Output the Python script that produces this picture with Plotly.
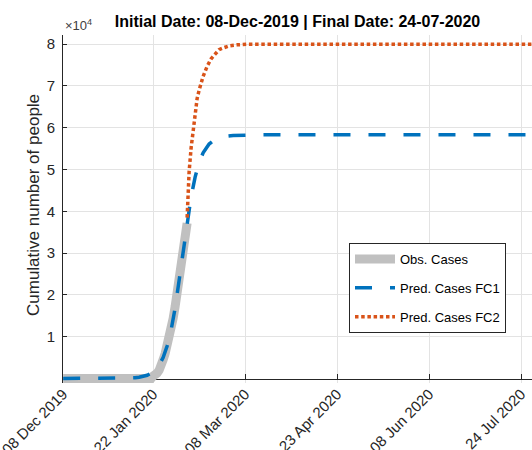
import plotly.graph_objects as go

# ---- data ----
obs_dates = ["2019-12-08", "2020-01-21", "2020-01-22", "2020-01-23", "2020-01-24", "2020-01-25",
             "2020-01-26", "2020-01-27", "2020-01-28", "2020-01-29", "2020-01-30", "2020-01-31",
             "2020-02-01", "2020-02-02", "2020-02-03", "2020-02-04", "2020-02-05", "2020-02-06",
             "2020-02-07", "2020-02-08"]
obs_values = [0, 0, 571, 830, 1287, 1975, 2744, 4515, 5974, 7711, 9692, 11791,
              14380, 17205, 20438, 24324, 28018, 31161, 34546, 37198]

fc1_dates = ["2019-12-08", "2019-12-28", "2020-01-02", "2020-01-07", "2020-01-11", "2020-01-13",
             "2020-01-15", "2020-01-17", "2020-01-19", "2020-01-21", "2020-01-23", "2020-01-25",
             "2020-01-27", "2020-01-29", "2020-01-31", "2020-02-02", "2020-02-04", "2020-02-06",
             "2020-02-08", "2020-02-10", "2020-02-12", "2020-02-14", "2020-02-16", "2020-02-19",
             "2020-02-22", "2020-02-26", "2020-03-02", "2020-03-09", "2020-03-17", "2020-07-30"]
fc1_values = [0, 4, 13, 42, 112, 183, 298, 480, 780, 1250, 2010, 3210,
              5020, 7790, 11650, 16850, 23180, 30160, 37030, 43500, 48200, 51700, 54000, 56100,
              57200, 57900, 58150, 58280, 58300, 58300]

fc2_dates = ["2020-02-08", "2020-02-09", "2020-02-10", "2020-02-11", "2020-02-12", "2020-02-13",
             "2020-02-14", "2020-02-15", "2020-02-16", "2020-02-18", "2020-02-20", "2020-02-22",
             "2020-02-24", "2020-02-26", "2020-02-29", "2020-03-04", "2020-03-09", "2020-07-30"]
fc2_values = [38500, 49500, 55200, 59500, 63500, 67000, 69000, 70900, 72300, 74700, 76500, 77600,
              78700, 79100, 79600, 79850, 80000, 80000]

x_tick_vals = ["2019-12-08", "2020-01-22", "2020-03-08", "2020-04-23", "2020-06-08", "2020-07-24"]
x_tick_text = ["08 Dec 2019", "22 Jan 2020", "08 Mar 2020", "23 Apr 2020", "08 Jun 2020", "24 Jul 2020"]
y_tick_vals = [10000, 20000, 30000, 40000, 50000, 60000, 70000, 80000]
y_tick_text = ["1", "2", "3", "4", "5", "6", "7", "8"]

x_range = ["2019-12-07 22:00", "2020-07-29 12:00"]
y_range = [-1077, 82200]

FONT = "Liberation Sans, Arial, sans-serif"
AX = "#262626"

fig = go.Figure()
fig.add_trace(go.Scatter(x=obs_dates, y=obs_values, mode="lines", name="Obs. Cases",
                         legendgroup="a", line=dict(color="#c0c0c0", width=9)))
fig.add_trace(go.Scatter(x=fc1_dates, y=fc1_values, mode="lines", name="Pred. Cases FC1",
                         legendgroup="b", line=dict(color="#0072BD", width=3.5, dash="17px,18px")))
fig.add_trace(go.Scatter(x=fc2_dates, y=fc2_values, mode="lines", name="Pred. Cases FC2",
                         legendgroup="c", line=dict(color="#D95319", width=3.5, dash="3.5px,2.7px")))

fig.update_layout(
    width=532, height=450,
    margin=dict(l=63, r=0, t=35, b=67, autoexpand=False),
    paper_bgcolor="white", plot_bgcolor="white",
    font=dict(family=FONT, color=AX, size=15),
    title=dict(text="Initial Date: 08-Dec-2019 | Final Date: 24-07-2020",
               x=0.5, xref="paper", xanchor="center", y=1 - 21 / 450, yref="container", yanchor="middle",
               font=dict(family=FONT, size=16, color="black", weight="bold")),
    xaxis=dict(type="date", range=x_range, tickmode="array", tickvals=x_tick_vals, ticktext=x_tick_text,
               tickangle=-45, anchor="free", position=4.5 / 348, showline=True, linecolor=AX, linewidth=1,
               ticks="inside", ticklen=5, tickcolor=AX, showgrid=True, gridcolor="#e3e3e3", gridwidth=1,
               zeroline=False, layer="below traces", tickfont=dict(size=15, color=AX),
               ticklabeloverflow="allow", automargin=False),
    xaxis2=dict(type="date", range=x_range, overlaying="x", side="top", anchor="y", matches="x",
                tickmode="array", tickvals=x_tick_vals, showticklabels=False, showline=True,
                linecolor=AX, linewidth=1, ticks="inside", ticklen=5, tickcolor=AX, showgrid=False,
                zeroline=False, automargin=False),
    yaxis=dict(range=y_range, tickmode="array", tickvals=y_tick_vals, ticktext=y_tick_text,
               showline=True, linecolor=AX, linewidth=1, ticks="inside", ticklen=4, tickcolor=AX,
               showgrid=True, gridcolor="#e3e3e3", gridwidth=1, zeroline=False, layer="below traces",
               ticklabelstandoff=4, tickfont=dict(size=15, color=AX), automargin=False),
    legend=dict(x=(349 - 63) / 469, y=(383 - 243) / 348, xanchor="left", yanchor="top",
                bgcolor="white", bordercolor=AX, borderwidth=1, tracegroupgap=9, itemwidth=40,
                entrywidth=92, entrywidthmode="pixels",
                font=dict(family=FONT, size=13, color="black")),
    showlegend=True,
)

# white strip under y=0 to hide gridline stubs (between gridlines and traces)
fig.add_shape(type="rect", xref="paper", yref="y", x0=0, x1=1, y0=y_range[0], y1=0,
              fillcolor="white", line=dict(width=0), layer="between")

fig.add_annotation(text="×10<sup>4</sup>", xref="paper", yref="paper", x=0, y=1,
                   xanchor="left", yanchor="bottom", yshift=0, showarrow=False,
                   font=dict(family=FONT, size=13, color="#404040"))
fig.add_annotation(text="Cumulative number of people", xref="paper", yref="paper",
                   x=(33 - 63) / 469, y=(383 - 205) / 348, xanchor="center", yanchor="middle",
                   textangle=-90, showarrow=False, font=dict(family=FONT, size=17, color=AX))

fig.write_html("out.html", config={"displayModeBar": False},
               post_script="document.body.style.margin='0px';")
